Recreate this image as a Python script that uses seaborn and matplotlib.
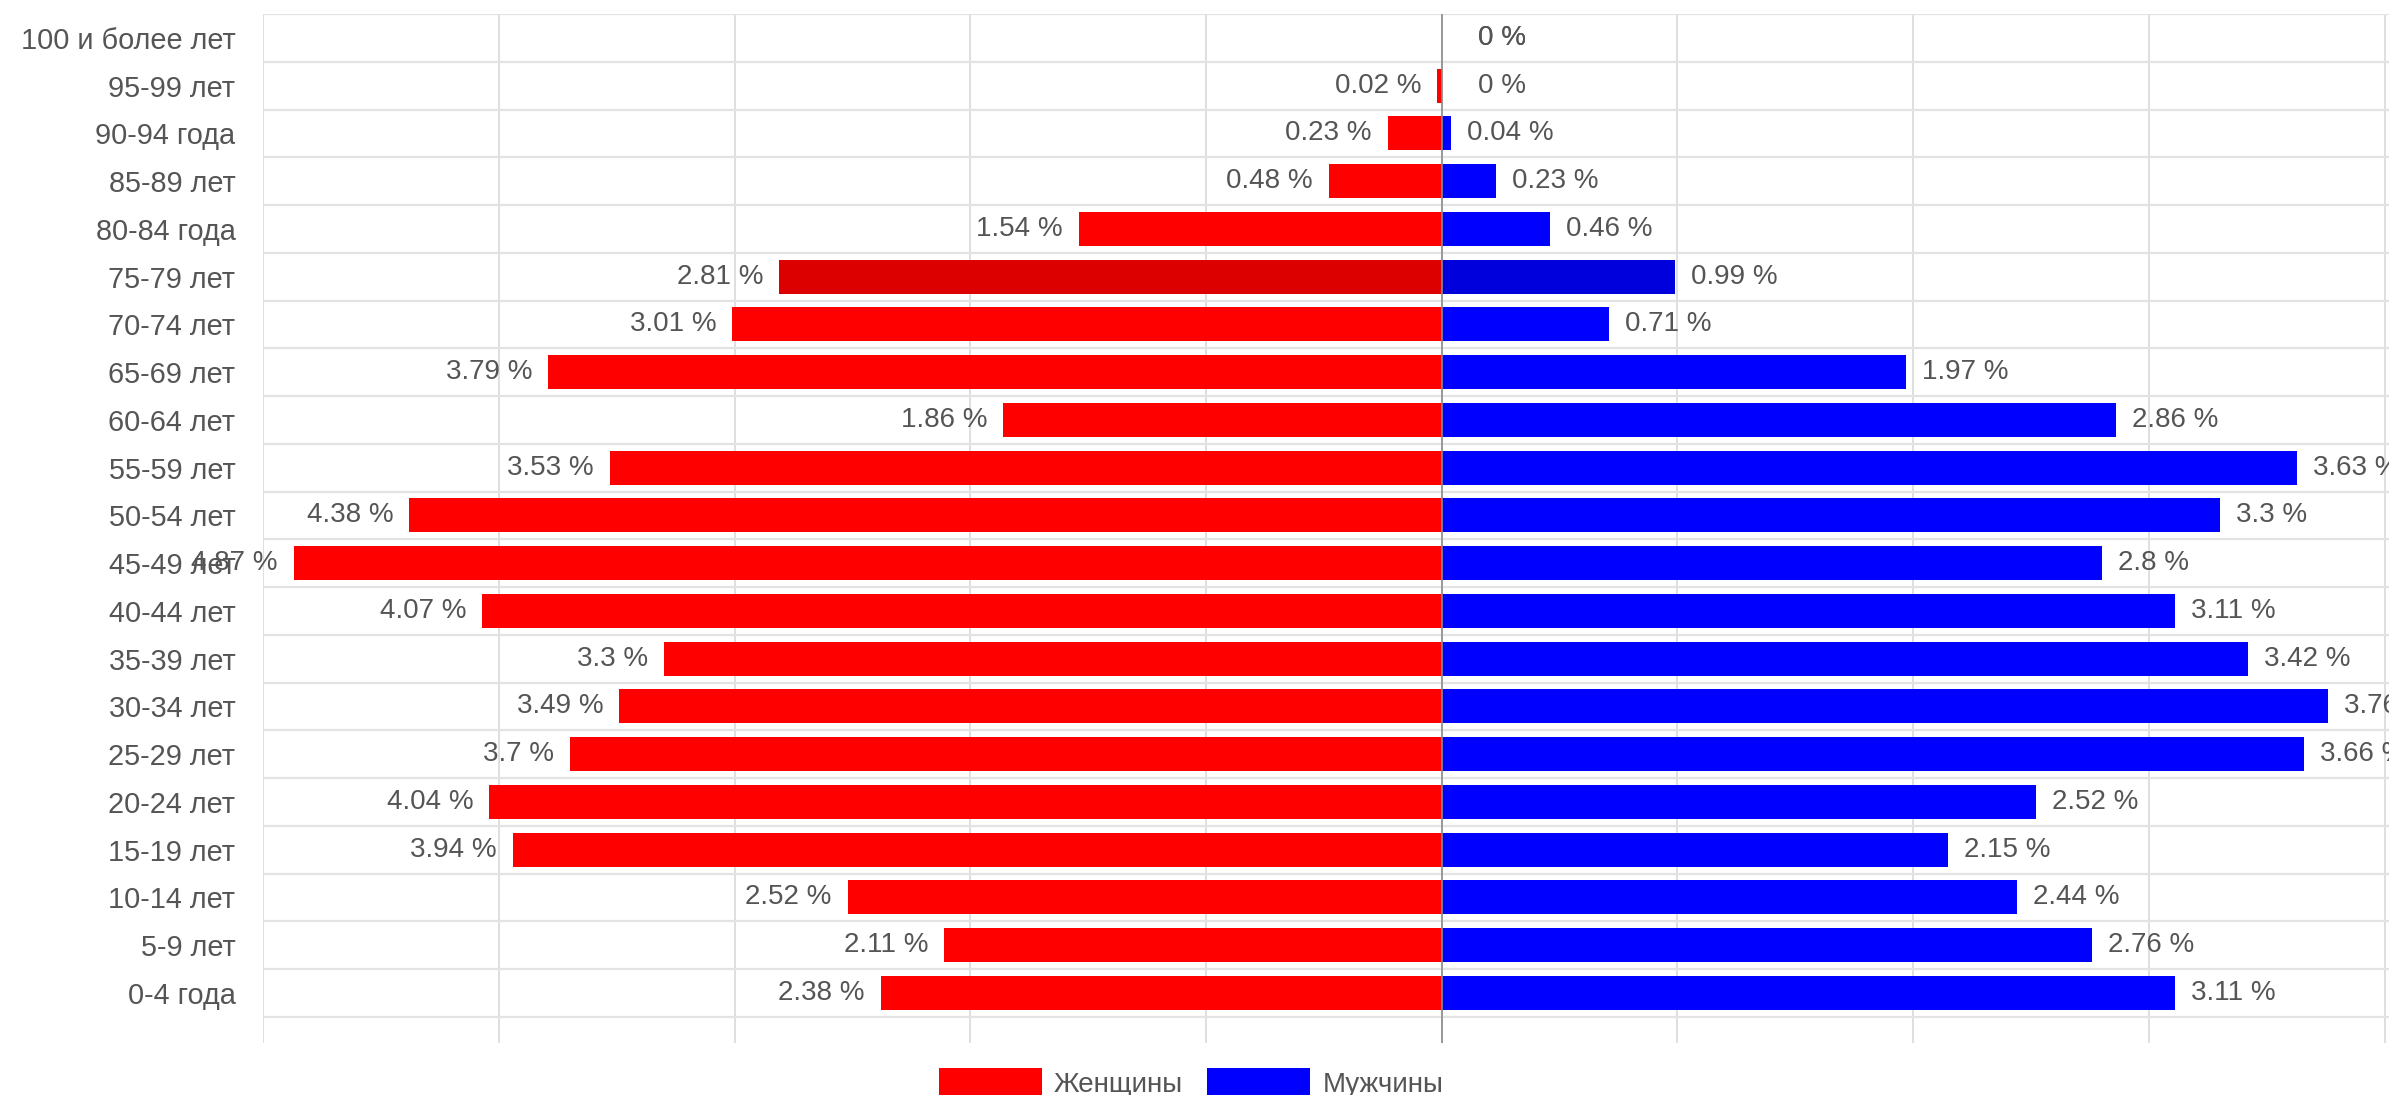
import numpy as np
import pandas as pd
import matplotlib
matplotlib.use("Agg")
import matplotlib.pyplot as plt
import seaborn as sns
from matplotlib.patches import Patch

# --- data (top row first) ---
ages = [
    "100 и более лет", "95-99 лет", "90-94 года", "85-89 лет", "80-84 года",
    "75-79 лет", "70-74 лет", "65-69 лет", "60-64 лет", "55-59 лет",
    "50-54 лет", "45-49 лет", "40-44 лет", "35-39 лет", "30-34 лет",
    "25-29 лет", "20-24 лет", "15-19 лет", "10-14 лет", "5-9 лет", "0-4 года",
]
women = [0, 0.02, 0.23, 0.48, 1.54, 2.81, 3.01, 3.79, 1.86, 3.53, 4.38,
         4.87, 4.07, 3.3, 3.49, 3.7, 4.04, 3.94, 2.52, 2.11, 2.38]
# 30-34 men: label is cut at "3.7", bar length reads about 3.76
men = [0, 0, 0.04, 0.23, 0.46, 0.99, 0.71, 1.97, 2.86, 3.63, 3.3,
       2.8, 3.11, 3.42, 3.76, 3.66, 2.52, 2.15, 2.44, 2.76, 3.11]
sexes = ["Женщины", "Мужчины"]
highlighted = "75-79 лет"   # row shown with hover shading in the original

colors = {"Женщины": "#ff0000", "Мужчины": "#0000ff"}
dark = {"Женщины": "#dc0000", "Мужчины": "#0000dc"}
text_col = "#555555"

# long form table, women go to the left
df = pd.DataFrame({
    "Возраст": ages * 2,
    "Доля": [-v for v in women] + men,
    "Пол": [sexes[0]] * len(ages) + [sexes[1]] * len(ages),
})

sns.set_theme(style="white")
plt.rcParams["font.family"] = ["Liberation Sans", "DejaVu Sans"]

W, H = 2389, 1095
fig = plt.figure(figsize=(W / 100, H / 100), dpi=100)
left_px, top_px, bottom_px = 263.2, 14, 1043
ax = fig.add_axes([left_px / W, 1 - bottom_px / H, 1 - left_px / W, (bottom_px - top_px) / H])

sns.barplot(data=df, x="Доля", y="Возраст", hue="Пол", order=ages, hue_order=sexes,
            palette=colors, dodge=False, width=0.71, orient="h", errorbar=None,
            saturation=1, legend=False, linewidth=0, ax=ax)

# hover shading on one row
hi = ages.index(highlighted)
for cont, s in zip(ax.containers, sexes):
    cont[hi].set_facecolor(dark[s])

row_px = 47.75
ax.set_xlim(-5, 4.019)
ax.set_ylim(-0.5 + (bottom_px - top_px) / row_px, -0.5)

# grid: vertical every 1 %, horizontal between the rows
ax.set_xticks(np.arange(-5, 5))
ax.set_xticklabels([])
ax.grid(axis="x", color="#d9d9d9", linewidth=1.2)
ax.set_yticks(np.arange(-0.5, len(ages)), minor=True)
ax.grid(axis="y", which="minor", color="#e3e3e3", linewidth=1.6)
ax.grid(axis="y", which="major", visible=False)
ax.axvline(0, color="#8c8c8c", linewidth=1.2, zorder=3)
ax.tick_params(axis="x", length=0)
ax.tick_params(axis="y", which="major", length=0, pad=20, labelsize=20.8, labelcolor=text_col)
ax.tick_params(axis="y", which="minor", length=16.5, width=1.6, color="#e3e3e3")
ax.set_xlabel("")
ax.set_ylabel("")
sns.despine(ax=ax, left=True, bottom=True)
ax.set_axisbelow(True)

# value labels
for i, (f, m) in enumerate(zip(women, men)):
    for v, sign in ((f, -1), (m, 1)):
        txt = f"{v:g} %"
        if v == 0:
            ax.annotate(txt, (0, i), xytext=(26, 0), textcoords="offset points",
                        ha="left", va="center", fontsize=20, color=text_col, clip_on=False)
        elif sign < 0:
            ax.annotate(txt, (-v, i), xytext=(-11.5, 0), textcoords="offset points",
                        ha="right", va="center", fontsize=20, color=text_col, clip_on=False)
        else:
            ax.annotate(txt, (v, i), xytext=(11.5, 0), textcoords="offset points",
                        ha="left", va="center", fontsize=20, color=text_col, clip_on=False)

handles = [Patch(facecolor=colors[s], edgecolor="none") for s in sexes]
fig.legend(handles, sexes, loc="center", bbox_to_anchor=(0.4986, 1 - 1083 / H), ncol=2,
           frameon=False, fontsize=20, labelcolor=text_col, handlelength=3.7,
           handleheight=1.15, handletextpad=0.45, columnspacing=0.87,
           borderpad=0, borderaxespad=0)

fig.savefig("out.png", dpi=100)
